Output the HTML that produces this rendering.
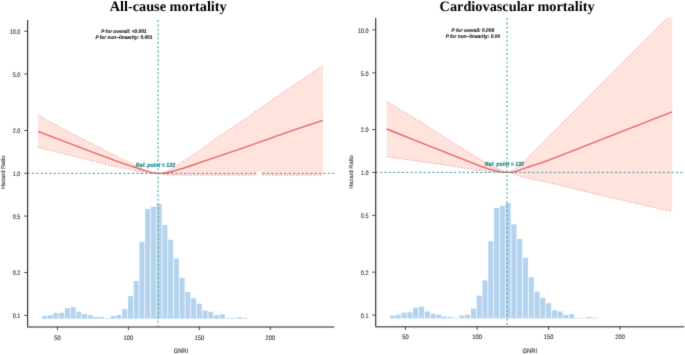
<!DOCTYPE html>
<html><head><meta charset="utf-8"><style>
html,body{margin:0;padding:0;background:#fff;width:685px;height:355px;overflow:hidden}
svg{display:block}
.wrap{width:685px;height:355px}
text{text-rendering:geometricPrecision}
.hr{font-family:"Liberation Sans",sans-serif;font-size:5.75px;fill:#444;stroke:#555;stroke-width:0.18px}
.tk{font-family:"Liberation Sans",sans-serif;font-size:5.8px;fill:#444;stroke:#555;stroke-width:0.18px}
.ti{font-family:"Liberation Serif",serif;font-weight:bold;font-size:14.3px;fill:#000}
.pv{font-family:"Liberation Sans",sans-serif;font-weight:bold;font-style:italic;font-size:4.8px;fill:#222;stroke:#222;stroke-width:0.12px}
.rf{font-family:"Liberation Sans",sans-serif;font-weight:bold;font-style:italic;font-size:5.3px;fill:#1f8a8a;stroke:#1f8a8a;stroke-width:0.15px}
</style></head><body><div class="wrap">
<svg width="685" height="355" viewBox="0 0 685 355">
<defs><filter id="bl" x="0" y="0" width="685" height="355" filterUnits="userSpaceOnUse" color-interpolation-filters="sRGB"><feConvolveMatrix order="3" kernelMatrix="0.0114 0.0841 0.0114 0.0841 0.6180 0.0841 0.0114 0.0841 0.0114" edgeMode="duplicate"/></filter><clipPath id="clipL"><rect x="27.5" y="20" width="307" height="307"/></clipPath><clipPath id="clipR"><rect x="375.5" y="18" width="296.8" height="309"/></clipPath></defs>
<g filter="url(#bl)"><rect width="685" height="355" fill="#fff"/>
<rect x="41.90" y="316.00" width="5.04" height="2.70" fill="#b4d3ef"/>
<rect x="47.64" y="315.10" width="5.04" height="3.60" fill="#b4d3ef"/>
<rect x="53.37" y="313.00" width="5.04" height="5.70" fill="#b4d3ef"/>
<rect x="59.11" y="312.70" width="5.04" height="6.00" fill="#b4d3ef"/>
<rect x="64.85" y="308.10" width="5.04" height="10.60" fill="#b4d3ef"/>
<rect x="70.59" y="307.00" width="5.04" height="11.70" fill="#b4d3ef"/>
<rect x="76.32" y="311.80" width="5.04" height="6.90" fill="#b4d3ef"/>
<rect x="82.06" y="314.00" width="5.04" height="4.70" fill="#b4d3ef"/>
<rect x="87.80" y="315.00" width="5.04" height="3.70" fill="#b4d3ef"/>
<rect x="93.53" y="316.80" width="5.04" height="1.90" fill="#b4d3ef"/>
<rect x="99.27" y="317.20" width="5.04" height="1.50" fill="#b4d3ef"/>
<rect x="105.01" y="318.10" width="5.04" height="0.60" fill="#b4d3ef"/>
<rect x="110.74" y="315.90" width="5.04" height="2.80" fill="#b4d3ef"/>
<rect x="116.48" y="315.00" width="5.04" height="3.70" fill="#b4d3ef"/>
<rect x="122.22" y="308.90" width="5.04" height="9.80" fill="#b4d3ef"/>
<rect x="127.96" y="296.10" width="5.04" height="22.60" fill="#b4d3ef"/>
<rect x="133.69" y="280.90" width="5.04" height="37.80" fill="#b4d3ef"/>
<rect x="139.43" y="241.90" width="5.04" height="76.80" fill="#b4d3ef"/>
<rect x="145.17" y="209.00" width="5.04" height="109.70" fill="#b4d3ef"/>
<rect x="150.90" y="206.80" width="5.04" height="111.90" fill="#b4d3ef"/>
<rect x="156.64" y="204.00" width="5.04" height="114.70" fill="#b4d3ef"/>
<rect x="162.38" y="225.10" width="5.04" height="93.60" fill="#b4d3ef"/>
<rect x="168.11" y="239.80" width="5.04" height="78.90" fill="#b4d3ef"/>
<rect x="173.85" y="258.60" width="5.04" height="60.10" fill="#b4d3ef"/>
<rect x="179.59" y="277.80" width="5.04" height="40.90" fill="#b4d3ef"/>
<rect x="185.33" y="292.00" width="5.04" height="26.70" fill="#b4d3ef"/>
<rect x="191.06" y="298.20" width="5.04" height="20.50" fill="#b4d3ef"/>
<rect x="196.80" y="303.70" width="5.04" height="15.00" fill="#b4d3ef"/>
<rect x="202.54" y="310.50" width="5.04" height="8.20" fill="#b4d3ef"/>
<rect x="208.27" y="311.80" width="5.04" height="6.90" fill="#b4d3ef"/>
<rect x="214.01" y="315.30" width="5.04" height="3.40" fill="#b4d3ef"/>
<rect x="219.75" y="314.30" width="5.04" height="4.40" fill="#b4d3ef"/>
<rect x="225.48" y="318.00" width="5.04" height="0.70" fill="#b4d3ef"/>
<rect x="231.22" y="318.00" width="5.04" height="0.70" fill="#b4d3ef"/>
<rect x="236.96" y="317.30" width="5.04" height="1.40" fill="#b4d3ef"/>
<rect x="242.70" y="318.00" width="5.04" height="0.70" fill="#b4d3ef"/>
<g clip-path="url(#clipL)">
<polygon points="38.00,115.40 39.79,116.35 42.09,117.59 44.82,119.05 47.89,120.69 51.21,122.46 54.69,124.33 58.24,126.22 61.78,128.11 65.21,129.94 68.45,131.66 71.41,133.23 74.00,134.60 76.28,135.80 78.40,136.91 80.38,137.93 82.22,138.89 83.97,139.78 85.62,140.63 87.22,141.45 88.78,142.24 90.31,143.02 91.85,143.80 93.40,144.59 95.00,145.40 96.60,146.22 98.17,147.01 99.70,147.79 101.20,148.56 102.69,149.31 104.16,150.05 105.62,150.79 107.07,151.52 108.54,152.26 110.01,153.00 111.49,153.74 113.00,154.50 114.56,155.28 116.17,156.09 117.83,156.91 119.51,157.74 121.19,158.58 122.86,159.41 124.50,160.22 126.08,161.00 127.59,161.75 129.01,162.45 130.32,163.11 131.50,163.70 132.55,164.23 133.47,164.70 134.28,165.13 135.01,165.51 135.67,165.86 136.27,166.18 136.83,166.48 137.38,166.77 137.92,167.04 138.48,167.32 139.06,167.60 139.70,167.90 140.37,168.20 141.05,168.50 141.73,168.79 142.41,169.07 143.09,169.35 143.77,169.61 144.43,169.87 145.09,170.12 145.72,170.36 146.34,170.58 146.93,170.80 147.50,171.00 148.04,171.19 148.56,171.36 149.05,171.52 149.52,171.67 149.98,171.81 150.43,171.94 150.86,172.07 151.29,172.18 151.71,172.29 152.14,172.40 152.57,172.50 153.00,172.60 153.44,172.70 153.87,172.79 154.31,172.88 154.74,172.97 155.17,173.05 155.59,173.12 156.01,173.19 156.43,173.25 156.83,173.30 157.23,173.35 157.62,173.38 158.00,173.40 158.37,173.41 158.72,173.41 159.07,173.41 159.40,173.39 159.73,173.37 160.05,173.34 160.37,173.30 160.69,173.25 161.01,173.20 161.33,173.14 161.66,173.07 162.00,173.00 162.34,172.93 162.66,172.85 162.99,172.77 163.31,172.69 163.63,172.59 163.96,172.49 164.29,172.38 164.64,172.26 165.00,172.12 165.38,171.97 165.78,171.79 166.20,171.60 166.65,171.38 167.14,171.14 167.65,170.87 168.17,170.59 168.72,170.29 169.27,169.97 169.83,169.66 170.38,169.34 170.93,169.02 171.47,168.70 172.00,168.39 172.50,168.10 172.98,167.82 173.45,167.54 173.91,167.26 174.35,166.99 174.79,166.72 175.23,166.45 175.67,166.18 176.11,165.90 176.57,165.61 177.03,165.32 177.51,165.01 178.00,164.70 178.49,164.39 178.97,164.08 179.44,163.78 179.90,163.47 180.38,163.16 180.87,162.84 181.38,162.51 181.93,162.15 182.52,161.76 183.15,161.35 183.84,160.89 184.60,160.40 185.42,159.87 186.29,159.31 187.20,158.73 188.16,158.12 189.16,157.48 190.19,156.82 191.26,156.13 192.36,155.41 193.49,154.67 194.64,153.91 195.81,153.12 197.00,152.30 198.16,151.49 199.25,150.70 200.32,149.92 201.39,149.13 202.48,148.31 203.63,147.46 204.86,146.54 206.21,145.55 207.70,144.46 209.36,143.27 211.22,141.96 213.30,140.50 215.67,138.87 218.31,137.05 221.20,135.08 224.27,132.99 227.48,130.81 230.79,128.57 234.15,126.29 237.51,124.02 240.82,121.77 244.03,119.58 247.11,117.48 250.00,115.50 252.69,113.64 255.24,111.87 257.67,110.18 260.02,108.53 262.32,106.91 264.61,105.30 266.92,103.67 269.29,102.01 271.75,100.30 274.33,98.50 277.07,96.61 280.00,94.60 283.26,92.37 286.90,89.90 290.82,87.24 294.93,84.46 299.13,81.62 303.32,78.79 307.41,76.04 311.30,73.42 314.89,71.00 318.08,68.85 320.79,67.03 322.90,65.60 322.90,175.20 316.66,175.20 308.43,175.20 298.59,175.20 287.52,175.20 275.60,175.21 263.20,175.21 250.70,175.21 238.49,175.21 226.93,175.21 216.41,175.21 207.31,175.20 200.00,175.20 194.28,175.20 189.60,175.19 185.84,175.19 182.86,175.19 180.54,175.19 178.76,175.18 177.37,175.18 176.26,175.17 175.30,175.16 174.35,175.14 173.30,175.12 172.00,175.10 170.68,175.07 169.62,175.05 168.77,175.02 168.11,174.99 167.59,174.96 167.19,174.92 166.85,174.88 166.56,174.83 166.26,174.78 165.92,174.73 165.52,174.67 165.00,174.60 164.44,174.52 163.92,174.44 163.42,174.35 162.94,174.26 162.46,174.15 161.96,174.05 161.44,173.94 160.88,173.83 160.27,173.72 159.59,173.61 158.84,173.51 158.00,173.40 157.03,173.29 155.94,173.18 154.74,173.07 153.46,172.96 152.12,172.84 150.77,172.73 149.41,172.61 148.09,172.50 146.82,172.39 145.63,172.29 144.55,172.19 143.60,172.10 142.80,172.02 142.11,171.96 141.52,171.91 141.01,171.87 140.56,171.83 140.14,171.79 139.73,171.75 139.31,171.70 138.86,171.63 138.35,171.54 137.77,171.44 137.10,171.30 136.34,171.13 135.54,170.94 134.69,170.72 133.81,170.49 132.90,170.24 131.96,169.98 131.00,169.72 130.02,169.46 129.04,169.20 128.05,168.95 127.07,168.72 126.10,168.50 125.15,168.31 124.21,168.14 123.29,167.99 122.37,167.85 121.44,167.71 120.49,167.58 119.52,167.43 118.51,167.27 117.45,167.10 116.33,166.90 115.16,166.67 113.90,166.40 112.56,166.10 111.16,165.76 109.68,165.40 108.16,165.01 106.58,164.61 104.97,164.19 103.33,163.77 101.67,163.33 99.99,162.89 98.32,162.45 96.65,162.02 95.00,161.60 93.40,161.19 91.86,160.80 90.36,160.42 88.88,160.04 87.38,159.65 85.85,159.26 84.26,158.86 82.58,158.43 80.79,157.98 78.86,157.49 76.77,156.97 74.50,156.40 71.90,155.75 68.92,155.02 65.64,154.21 62.17,153.35 58.58,152.46 54.97,151.58 51.43,150.70 48.06,149.87 44.93,149.11 42.16,148.42 39.81,147.85 38.00,147.40" fill="#fee4dd"/>
<path d="M38.00,115.40 C44.00,118.60 64.50,129.60 74.00,134.60 C83.50,139.60 88.50,142.08 95.00,145.40 C101.50,148.72 106.92,151.45 113.00,154.50 C119.08,157.55 127.05,161.47 131.50,163.70 C135.95,165.93 137.03,166.68 139.70,167.90 C142.37,169.12 145.28,170.22 147.50,171.00 C149.72,171.78 151.25,172.20 153.00,172.60 C154.75,173.00 156.50,173.33 158.00,173.40 C159.50,173.47 160.63,173.30 162.00,173.00 C163.37,172.70 164.45,172.42 166.20,171.60 C167.95,170.78 170.53,169.25 172.50,168.10 C174.47,166.95 175.98,165.98 178.00,164.70 C180.02,163.42 181.43,162.47 184.60,160.40 C187.77,158.33 192.22,155.62 197.00,152.30 C201.78,148.98 204.47,146.63 213.30,140.50 C222.13,134.37 238.88,123.15 250.00,115.50 C261.12,107.85 267.85,102.92 280.00,94.60 C292.15,86.28 315.75,70.43 322.90,65.60" fill="none" stroke="#e8626a" stroke-width="0.9" stroke-dasharray="0.9 2.1"/>
<path d="M38.00,147.40 C44.08,148.90 65.00,154.03 74.50,156.40 C84.00,158.77 88.43,159.93 95.00,161.60 C101.57,163.27 108.72,165.25 113.90,166.40 C119.08,167.55 122.23,167.68 126.10,168.50 C129.97,169.32 134.18,170.70 137.10,171.30 C140.02,171.90 140.12,171.75 143.60,172.10 C147.08,172.45 154.43,172.98 158.00,173.40 C161.57,173.82 162.67,174.32 165.00,174.60 C167.33,174.88 166.17,175.00 172.00,175.10 C177.83,175.20 174.85,175.18 200.00,175.20 C225.15,175.22 302.42,175.20 322.90,175.20" fill="none" stroke="#e8626a" stroke-width="0.9" stroke-dasharray="0.9 2.1"/>
</g>
<path d="M38.00,131.30 C44.00,133.60 64.50,141.47 74.00,145.10 C83.50,148.73 88.35,150.58 95.00,153.10 C101.65,155.62 108.90,158.35 113.90,160.20 C118.90,162.05 121.72,163.07 125.00,164.20 C128.28,165.33 131.10,166.20 133.60,167.00 C136.10,167.80 137.27,168.15 140.00,169.00 C142.73,169.85 147.67,171.43 150.00,172.10 C152.33,172.77 152.67,172.78 154.00,173.00 C155.33,173.22 156.50,173.35 158.00,173.40 C159.50,173.45 161.33,173.45 163.00,173.30 C164.67,173.15 166.17,172.88 168.00,172.50 C169.83,172.12 172.00,171.55 174.00,171.00 C176.00,170.45 177.33,170.03 180.00,169.20 C182.67,168.37 185.00,167.67 190.00,166.00 C195.00,164.33 200.83,162.32 210.00,159.20 C219.17,156.08 233.33,151.37 245.00,147.30 C256.67,143.23 267.02,139.30 280.00,134.80 C292.98,130.30 315.75,122.72 322.90,120.30" fill="none" stroke="#e8626a" stroke-width="1.35"/>
<line x1="27.60" y1="173.40" x2="334.40" y2="173.40" stroke="#3a9d98" stroke-width="1" stroke-dasharray="2.15 2.2"/>
<line x1="158.00" y1="20.00" x2="158.00" y2="326.70" stroke="#3a9d98" stroke-width="1" stroke-dasharray="2.1 2.257"/>
<rect x="256.80" y="171.20" width="4.40" height="4.60" fill="#fff"/>
<line x1="27.60" y1="20.00" x2="27.60" y2="327.00" stroke="#363636" stroke-width="1.2"/>
<line x1="27.00" y1="326.95" x2="334.40" y2="326.95" stroke="#686868" stroke-width="1.35"/>
<line x1="24.20" y1="31.20" x2="27.60" y2="31.20" stroke="#363636" stroke-width="0.9"/>
<text transform="translate(20.40,34.00) scale(0.95,1.12)" text-anchor="end" class="tk">10.0</text>
<line x1="24.20" y1="73.98" x2="27.60" y2="73.98" stroke="#363636" stroke-width="0.9"/>
<text transform="translate(20.40,77.00) scale(0.95,1.12)" text-anchor="end" class="tk">5.0</text>
<line x1="24.20" y1="130.52" x2="27.60" y2="130.52" stroke="#363636" stroke-width="0.9"/>
<text transform="translate(20.40,133.00) scale(0.95,1.12)" text-anchor="end" class="tk">2.0</text>
<line x1="24.20" y1="173.30" x2="27.60" y2="173.30" stroke="#363636" stroke-width="0.9"/>
<text transform="translate(20.40,176.00) scale(0.95,1.12)" text-anchor="end" class="tk">1.0</text>
<line x1="24.20" y1="216.08" x2="27.60" y2="216.08" stroke="#363636" stroke-width="0.9"/>
<text transform="translate(20.40,219.00) scale(0.95,1.12)" text-anchor="end" class="tk">0.5</text>
<line x1="24.20" y1="272.62" x2="27.60" y2="272.62" stroke="#363636" stroke-width="0.9"/>
<text transform="translate(20.40,275.00) scale(0.95,1.12)" text-anchor="end" class="tk">0.2</text>
<line x1="24.20" y1="315.40" x2="27.60" y2="315.40" stroke="#363636" stroke-width="0.9"/>
<text transform="translate(20.40,318.00) scale(0.95,1.12)" text-anchor="end" class="tk">0.1</text>
<line x1="57.50" y1="326.70" x2="57.50" y2="330.10" stroke="#363636" stroke-width="0.9"/>
<text transform="translate(57.50,339.50) scale(1,1.12)" text-anchor="middle" class="tk">50</text>
<line x1="128.40" y1="326.70" x2="128.40" y2="330.10" stroke="#363636" stroke-width="0.9"/>
<text transform="translate(128.40,339.50) scale(1,1.12)" text-anchor="middle" class="tk">100</text>
<line x1="199.40" y1="326.70" x2="199.40" y2="330.10" stroke="#363636" stroke-width="0.9"/>
<text transform="translate(199.40,339.50) scale(1,1.12)" text-anchor="middle" class="tk">150</text>
<line x1="270.30" y1="326.70" x2="270.30" y2="330.10" stroke="#363636" stroke-width="0.9"/>
<text transform="translate(270.30,339.50) scale(1,1.12)" text-anchor="middle" class="tk">200</text>
<text transform="translate(180.90,353.30) scale(1,1.1)" text-anchor="middle" class="tk">GNRI</text>
<text transform="translate(4.50,172.40) rotate(-90)" text-anchor="middle" class="hr">Hazard Ratio</text>
<text x="168.20" y="10.80" text-anchor="middle" class="ti">All-cause mortality</text>
<text transform="translate(123.90,32.60) scale(1,1.08)" text-anchor="middle" class="pv">P for overall: &lt;0.001</text>
<text transform="translate(123.90,38.70) scale(1,1.08)" text-anchor="middle" class="pv">P for non−linearity: 0.001</text>
<text transform="translate(155.50,166.70) scale(1,1.12)" text-anchor="middle" class="rf">Ref. point = 120</text>
<rect x="390.00" y="315.68" width="5.08" height="2.72" fill="#b4d3ef"/>
<rect x="395.78" y="314.78" width="5.08" height="3.62" fill="#b4d3ef"/>
<rect x="401.56" y="312.67" width="5.08" height="5.73" fill="#b4d3ef"/>
<rect x="407.34" y="312.36" width="5.08" height="6.04" fill="#b4d3ef"/>
<rect x="413.12" y="307.74" width="5.08" height="10.66" fill="#b4d3ef"/>
<rect x="418.90" y="306.63" width="5.08" height="11.77" fill="#b4d3ef"/>
<rect x="424.68" y="311.46" width="5.08" height="6.94" fill="#b4d3ef"/>
<rect x="430.46" y="313.67" width="5.08" height="4.73" fill="#b4d3ef"/>
<rect x="436.24" y="314.68" width="5.08" height="3.72" fill="#b4d3ef"/>
<rect x="442.02" y="316.49" width="5.08" height="1.91" fill="#b4d3ef"/>
<rect x="447.80" y="316.89" width="5.08" height="1.51" fill="#b4d3ef"/>
<rect x="453.58" y="317.80" width="5.08" height="0.60" fill="#b4d3ef"/>
<rect x="459.36" y="315.58" width="5.08" height="2.82" fill="#b4d3ef"/>
<rect x="465.14" y="314.68" width="5.08" height="3.72" fill="#b4d3ef"/>
<rect x="470.92" y="308.54" width="5.08" height="9.86" fill="#b4d3ef"/>
<rect x="476.70" y="295.66" width="5.08" height="22.74" fill="#b4d3ef"/>
<rect x="482.48" y="280.37" width="5.08" height="38.03" fill="#b4d3ef"/>
<rect x="488.26" y="241.14" width="5.08" height="77.26" fill="#b4d3ef"/>
<rect x="494.04" y="208.04" width="5.08" height="110.36" fill="#b4d3ef"/>
<rect x="499.82" y="205.83" width="5.08" height="112.57" fill="#b4d3ef"/>
<rect x="505.60" y="203.01" width="5.08" height="115.39" fill="#b4d3ef"/>
<rect x="511.38" y="224.24" width="5.08" height="94.16" fill="#b4d3ef"/>
<rect x="517.16" y="239.03" width="5.08" height="79.37" fill="#b4d3ef"/>
<rect x="522.94" y="257.94" width="5.08" height="60.46" fill="#b4d3ef"/>
<rect x="528.72" y="277.25" width="5.08" height="41.15" fill="#b4d3ef"/>
<rect x="534.50" y="291.54" width="5.08" height="26.86" fill="#b4d3ef"/>
<rect x="540.28" y="297.78" width="5.08" height="20.62" fill="#b4d3ef"/>
<rect x="546.06" y="303.31" width="5.08" height="15.09" fill="#b4d3ef"/>
<rect x="551.84" y="310.15" width="5.08" height="8.25" fill="#b4d3ef"/>
<rect x="557.62" y="311.46" width="5.08" height="6.94" fill="#b4d3ef"/>
<rect x="563.40" y="314.98" width="5.08" height="3.42" fill="#b4d3ef"/>
<rect x="569.18" y="313.97" width="5.08" height="4.43" fill="#b4d3ef"/>
<rect x="574.96" y="317.70" width="5.08" height="0.70" fill="#b4d3ef"/>
<rect x="580.74" y="317.70" width="5.08" height="0.70" fill="#b4d3ef"/>
<rect x="586.52" y="316.99" width="5.08" height="1.41" fill="#b4d3ef"/>
<rect x="592.30" y="317.70" width="5.08" height="0.70" fill="#b4d3ef"/>
<g clip-path="url(#clipR)">
<polygon points="386.70,101.40 388.50,102.49 390.81,103.88 393.56,105.54 396.64,107.39 399.98,109.40 403.48,111.51 407.05,113.67 410.61,115.83 414.08,117.93 417.36,119.93 420.36,121.77 423.00,123.40 425.27,124.82 427.27,126.09 429.05,127.23 430.67,128.29 432.19,129.30 433.68,130.28 435.18,131.28 436.75,132.32 438.46,133.44 440.37,134.67 442.53,136.05 445.00,137.60 447.86,139.39 451.11,141.42 454.66,143.63 458.43,145.97 462.33,148.39 466.28,150.84 470.21,153.26 474.02,155.60 477.64,157.80 480.98,159.82 483.96,161.61 486.50,163.10 488.63,164.31 490.45,165.31 492.00,166.13 493.31,166.78 494.44,167.30 495.41,167.72 496.25,168.06 497.02,168.34 497.74,168.60 498.45,168.86 499.19,169.15 500.00,169.50 500.82,169.87 501.58,170.22 502.29,170.54 502.94,170.83 503.55,171.10 504.12,171.34 504.66,171.56 505.17,171.76 505.65,171.93 506.11,172.08 506.56,172.20 507.00,172.30 507.41,172.37 507.77,172.41 508.10,172.42 508.39,172.40 508.65,172.36 508.90,172.30 509.14,172.22 509.38,172.12 509.63,172.00 509.89,171.88 510.18,171.74 510.50,171.60 510.83,171.45 511.15,171.31 511.46,171.16 511.78,170.99 512.11,170.82 512.44,170.62 512.80,170.40 513.19,170.15 513.60,169.87 514.05,169.56 514.55,169.20 515.10,168.80 515.68,168.37 516.29,167.93 516.92,167.47 517.59,166.99 518.28,166.47 519.01,165.92 519.77,165.32 520.58,164.67 521.44,163.96 522.34,163.18 523.29,162.33 524.30,161.40 525.03,160.73 525.25,160.53 525.16,160.63 524.94,160.86 524.76,161.02 524.80,160.94 525.25,160.45 526.30,159.37 528.11,157.51 530.88,154.70 534.78,150.75 540.00,145.50 546.97,138.50 555.77,129.66 566.05,119.35 577.45,107.91 589.63,95.69 602.22,83.06 614.88,70.35 627.25,57.94 638.98,46.16 649.72,35.38 659.11,25.94 666.80,18.20 673.02,11.93 678.30,6.60 682.74,2.10 686.44,-1.66 689.50,-4.78 692.02,-7.36 694.10,-9.49 695.84,-11.29 697.34,-12.83 698.70,-14.24 700.02,-15.59 701.40,-17.00 672.20,211.70 668.61,210.87 663.97,209.80 658.47,208.54 652.29,207.11 645.60,205.57 638.60,203.96 631.46,202.31 624.36,200.67 617.48,199.07 611.01,197.57 605.12,196.20 600.00,195.00 595.48,193.93 591.24,192.92 587.27,191.96 583.54,191.06 580.04,190.20 576.74,189.39 573.62,188.62 570.66,187.89 567.84,187.20 565.14,186.53 562.53,185.90 560.00,185.30 557.63,184.74 555.51,184.25 553.59,183.81 551.85,183.42 550.25,183.06 548.75,182.73 547.32,182.42 545.93,182.11 544.53,181.81 543.10,181.50 541.60,181.16 540.00,180.80 538.31,180.42 536.59,180.03 534.84,179.64 533.07,179.25 531.31,178.85 529.56,178.46 527.84,178.07 526.15,177.69 524.51,177.30 522.93,176.93 521.42,176.56 520.00,176.20 518.71,175.84 517.56,175.48 516.53,175.12 515.58,174.76 514.68,174.40 513.79,174.06 512.89,173.72 511.94,173.40 510.91,173.09 509.76,172.80 508.47,172.54 507.00,172.30 505.39,172.10 503.71,171.96 501.94,171.85 500.10,171.78 498.18,171.72 496.17,171.66 494.08,171.60 491.90,171.52 489.64,171.41 487.28,171.27 484.84,171.06 482.30,170.80 479.70,170.48 477.06,170.12 474.35,169.73 471.58,169.31 468.71,168.86 465.75,168.38 462.67,167.88 459.46,167.36 456.10,166.81 452.58,166.25 448.88,165.68 445.00,165.10 440.69,164.47 435.82,163.76 430.54,162.99 424.96,162.19 419.24,161.37 413.52,160.54 407.92,159.74 402.59,158.98 397.67,158.27 393.29,157.65 389.58,157.11 386.70,156.70" fill="#fee4dd"/>
<path d="M386.70,101.40 C392.75,105.07 413.28,117.37 423.00,123.40 C432.72,129.43 434.42,130.98 445.00,137.60 C455.58,144.22 477.33,157.78 486.50,163.10 C495.67,168.42 496.58,167.97 500.00,169.50 C503.42,171.03 505.25,171.95 507.00,172.30 C508.75,172.65 509.15,172.18 510.50,171.60 C511.85,171.02 512.80,170.50 515.10,168.80 C517.40,167.10 520.15,165.28 524.30,161.40 C528.45,157.52 516.25,169.37 540.00,145.50 C563.75,121.63 639.90,45.28 666.80,18.20 C693.70,-8.88 695.63,-11.13 701.40,-17.00" fill="none" stroke="#e8626a" stroke-width="0.9" stroke-dasharray="0.9 2.1"/>
<path d="M386.70,156.70 C396.42,158.10 429.07,162.75 445.00,165.10 C460.93,167.45 471.97,169.60 482.30,170.80 C492.63,172.00 500.72,171.40 507.00,172.30 C513.28,173.20 514.50,174.78 520.00,176.20 C525.50,177.62 533.33,179.28 540.00,180.80 C546.67,182.32 550.00,182.93 560.00,185.30 C570.00,187.67 581.30,190.60 600.00,195.00 C618.70,199.40 660.17,208.92 672.20,211.70" fill="none" stroke="#e8626a" stroke-width="0.9" stroke-dasharray="0.9 2.1"/>
</g>
<path d="M386.70,129.00 C396.42,132.87 429.07,145.90 445.00,152.20 C460.93,158.50 473.27,163.57 482.30,166.80 C491.33,170.03 495.08,170.68 499.20,171.60 C503.32,172.52 504.75,172.22 507.00,172.30 C509.25,172.38 510.53,172.50 512.70,172.10 C514.87,171.70 517.12,170.83 520.00,169.90 C522.88,168.97 526.67,167.62 530.00,166.50 C533.33,165.38 534.72,165.08 540.00,163.20 C545.28,161.32 539.68,163.77 561.70,155.20 C583.72,146.63 653.70,119.03 672.10,111.80" fill="none" stroke="#e8626a" stroke-width="1.35"/>
<line x1="375.70" y1="172.40" x2="684.20" y2="172.40" stroke="#3a9d98" stroke-width="1" stroke-dasharray="2.15 2.2"/>
<line x1="507.00" y1="18.00" x2="507.00" y2="326.50" stroke="#3a9d98" stroke-width="1" stroke-dasharray="2.1 2.257"/>
<line x1="375.70" y1="18.00" x2="375.70" y2="326.80" stroke="#363636" stroke-width="1.2"/>
<line x1="375.10" y1="326.75" x2="684.20" y2="326.75" stroke="#686868" stroke-width="1.35"/>
<line x1="372.30" y1="29.90" x2="375.70" y2="29.90" stroke="#363636" stroke-width="0.9"/>
<text transform="translate(368.50,33.00) scale(0.95,1.12)" text-anchor="end" class="tk">10.0</text>
<line x1="372.30" y1="72.83" x2="375.70" y2="72.83" stroke="#363636" stroke-width="0.9"/>
<text transform="translate(368.50,76.00) scale(0.95,1.12)" text-anchor="end" class="tk">5.0</text>
<line x1="372.30" y1="129.57" x2="375.70" y2="129.57" stroke="#363636" stroke-width="0.9"/>
<text transform="translate(368.50,132.00) scale(0.95,1.12)" text-anchor="end" class="tk">2.0</text>
<line x1="372.30" y1="172.50" x2="375.70" y2="172.50" stroke="#363636" stroke-width="0.9"/>
<text transform="translate(368.50,175.00) scale(0.95,1.12)" text-anchor="end" class="tk">1.0</text>
<line x1="372.30" y1="215.43" x2="375.70" y2="215.43" stroke="#363636" stroke-width="0.9"/>
<text transform="translate(368.50,218.00) scale(0.95,1.12)" text-anchor="end" class="tk">0.5</text>
<line x1="372.30" y1="272.17" x2="375.70" y2="272.17" stroke="#363636" stroke-width="0.9"/>
<text transform="translate(368.50,275.00) scale(0.95,1.12)" text-anchor="end" class="tk">0.2</text>
<line x1="372.30" y1="315.10" x2="375.70" y2="315.10" stroke="#363636" stroke-width="0.9"/>
<text transform="translate(368.50,318.00) scale(0.95,1.12)" text-anchor="end" class="tk">0.1</text>
<line x1="405.50" y1="326.50" x2="405.50" y2="329.90" stroke="#363636" stroke-width="0.9"/>
<text transform="translate(405.50,339.30) scale(1,1.12)" text-anchor="middle" class="tk">50</text>
<line x1="477.10" y1="326.50" x2="477.10" y2="329.90" stroke="#363636" stroke-width="0.9"/>
<text transform="translate(477.10,339.30) scale(1,1.12)" text-anchor="middle" class="tk">100</text>
<line x1="548.60" y1="326.50" x2="548.60" y2="329.90" stroke="#363636" stroke-width="0.9"/>
<text transform="translate(548.60,339.30) scale(1,1.12)" text-anchor="middle" class="tk">150</text>
<line x1="620.10" y1="326.50" x2="620.10" y2="329.90" stroke="#363636" stroke-width="0.9"/>
<text transform="translate(620.10,339.30) scale(1,1.12)" text-anchor="middle" class="tk">200</text>
<text transform="translate(529.80,353.30) scale(1,1.1)" text-anchor="middle" class="tk">GNRI</text>
<text transform="translate(353.20,172.00) rotate(-90)" text-anchor="middle" class="hr">Hazard Ratio</text>
<text x="517.10" y="10.80" text-anchor="middle" class="ti">Cardiovascular mortality</text>
<text transform="translate(472.80,31.50) scale(1,1.08)" text-anchor="middle" class="pv">P for overall: 0.008</text>
<text transform="translate(472.80,37.60) scale(1,1.08)" text-anchor="middle" class="pv">P for non−linearity: 0.04</text>
<text transform="translate(504.40,165.90) scale(1,1.12)" text-anchor="middle" class="rf">Ref. point = 120</text>
</g></svg>
</div></body></html>
